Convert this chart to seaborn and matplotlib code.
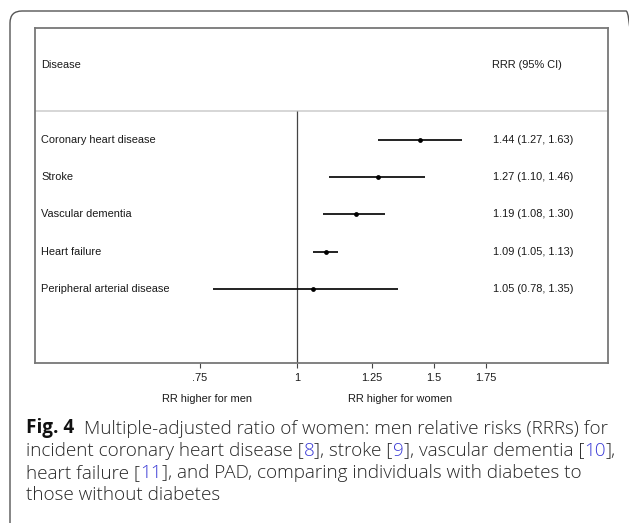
import matplotlib
matplotlib.use("Agg")
import matplotlib.pyplot as plt
import matplotlib.transforms as mtransforms
from matplotlib.patches import FancyBboxPatch
from matplotlib.ticker import NullLocator
import seaborn as sns
import pandas as pd

# ---------------- data ----------------
diseases = ["Coronary heart disease", "Stroke", "Vascular dementia",
            "Heart failure", "Peripheral arterial disease"]
rrr = [1.44, 1.27, 1.19, 1.09, 1.05]
ci_low = [1.27, 1.10, 1.08, 1.05, 0.78]
ci_high = [1.63, 1.46, 1.30, 1.13, 1.35]
tick_values = [0.75, 1, 1.25, 1.5, 1.75]
tick_labels = [".75", "1", "1.25", "1.5", "1.75"]
header_left = "Disease"
header_right = "RRR (95% CI)"
side_labels = ["RR higher for men", "RR higher for women"]

caption_lines = [
    [("Fig. 4", "k", "bold"),
     ("Multiple-adjusted ratio of women: men relative risks (RRRs) for", "t", 300)],
    [("incident coronary heart disease [", "t", 300), ("8", "b", 300),
     ("], stroke [", "t", 300), ("9", "b", 300),
     ("], vascular dementia [", "t", 300), ("10", "b", 300),
     ("],", "t", 300)],
    [("heart failure [", "t", 300), ("11", "b", 300),
     ("], and PAD, comparing individuals with diabetes to", "t", 300)],
    [("those without diabetes", "t", 300)],
]

# ---------------- style ----------------
sns.set_theme(style="ticks")
plt.rcParams['font.family'] = ['Liberation Sans', 'DejaVu Sans']

W, H = 629, 523
fig = plt.figure(figsize=(W / 100, H / 100), dpi=100)
fig.patch.set_facecolor("white")

# outer rounded frame (only top/left visible)
frame = FancyBboxPatch((10, -30), 628, 512 + 30, boxstyle="round,pad=0,rounding_size=12",
                       transform=mtransforms.IdentityTransform(), facecolor="none",
                       edgecolor="#555555", linewidth=1.0, clip_on=False)
fig.patches.append(frame)

ax = fig.add_axes([35 / W, 1 - 363 / H, (608 - 35) / W, (363 - 28) / H])

df = pd.DataFrame({"disease": diseases, "rrr": rrr, "lo": ci_low, "hi": ci_high,
                   "pos": range(len(diseases))})

ax.hlines(df["pos"], df["lo"], df["hi"], color="#111111", linewidth=1.3, zorder=2)
sns.scatterplot(data=df, x="rrr", y="pos", ax=ax, color="black", s=12,
                linewidth=0, zorder=3, legend=False)

ax.set_xscale("log")
ax.set_xlim(0.4596, 2.516)
ax.set_ylim(5.99, -3.0)

header_y = -0.78
ax.axhline(header_y, color="#cfcfcf", linewidth=1.2, zorder=1)
ax.vlines(1, header_y, 5.99, color="#444444", linewidth=0.9, zorder=1)

ax.set_xticks(tick_values)
ax.set_xticklabels(tick_labels)
ax.xaxis.set_minor_locator(NullLocator())
ax.set_yticks([])
ax.set_xlabel("")
ax.set_ylabel("")
ax.tick_params(axis="x", direction="out", length=3.5, width=0.8, color="#444444",
               pad=3.5, labelsize=7.9, labelcolor="#1a1a1a")
for sp in ax.spines.values():
    sp.set_visible(True)
    sp.set_color("#777777")
    sp.set_linewidth(1.3)

blend = mtransforms.blended_transform_factory(ax.transAxes, ax.transData)
lx = (41 - 35) / 573
vx = (493 - 35) / 573
txt_kw = dict(fontsize=7.9, color="#1a1a1a", va="center", ha="left", transform=blend)
ax.text(lx, -2.0, header_left, **txt_kw)
ax.text(vx - 0.002, -2.0, header_right, **txt_kw)
for i, d in enumerate(diseases):
    ax.text(lx, i, d, **txt_kw)
    ax.text(vx, i, f"{rrr[i]:.2f} ({ci_low[i]:.2f}, {ci_high[i]:.2f})", **txt_kw)

fig.text(207 / W, 1 - 399 / H, side_labels[0], fontsize=7.9, color="#1a1a1a",
         ha="center", va="center")
fig.text(400 / W, 1 - 399 / H, side_labels[1], fontsize=7.9, color="#1a1a1a",
         ha="center", va="center")

# ---------------- caption ----------------
colors = {"k": "#111111", "t": "#262626", "b": "#3a3ad6"}
cap_family = ["Open Sans", "DejaVu Sans"]
cap_size = 13.6
baselines = [433, 455.5, 478, 500.5]
for line, base in zip(caption_lines, baselines):
    prev = None
    for j, (txt, c, w) in enumerate(line):
        if prev is None:
            prev = fig.text(26 / W, 1 - base / H, txt, fontsize=cap_size, color=colors[c],
                            fontweight=w, family=cap_family, ha="left", va="baseline")
        else:
            gap = 7.0 if (line[j - 1][2] == "bold") else 0
            prev = ax.annotate(
                txt, xy=(1, 0), xycoords=prev, xytext=(gap, 0),
                textcoords="offset points", fontsize=cap_size, color=colors[c],
                fontweight=w, family=cap_family, ha="left", va="bottom",
                annotation_clip=False)

fig.savefig("out.png", dpi=100)
